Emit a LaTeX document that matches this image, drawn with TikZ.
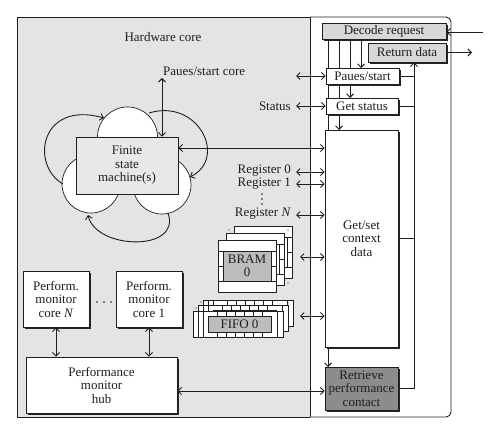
\documentclass[tikz,border=0pt]{standalone}
\usepackage{fontspec}
\setmainfont{Liberation Serif}
\usetikzlibrary{arrows.meta,shadows,calc}
\definecolor{bggrey}{HTML}{E4E4E4}
\definecolor{fsmgrey}{HTML}{E8E8E8}
\definecolor{hdrgrey}{HTML}{D8D8D8}
\definecolor{memgrey}{HTML}{BDBDBD}
\definecolor{darkgrey}{HTML}{8C8C8C}
\definecolor{ink}{HTML}{1E1E1E}
\tikzset{
  lbl/.style={font=\fontsize{13}{13.5}\selectfont, inner sep=0pt, align=center, text=ink},
  boxbase/.style={lbl, draw=ink, line width=0.9pt, fill=white},
  shbox/.style={boxbase, drop shadow={shadow xshift=2pt, shadow yshift=-2pt, fill=black!85, opacity=1}},
  arr/.style={draw=ink, line width=0.9pt, -{Straight Barb[length=3.5pt,width=7pt]}},
  darr/.style={draw=ink, line width=0.9pt, {Straight Barb[length=3.5pt,width=7pt]}-{Straight Barb[length=3.5pt,width=7pt]}},
  ln/.style={draw=ink, line width=0.9pt},
  thin/.style={draw=ink, line width=0.7pt}
}
\newcommand{\bramlayer}[3]{%
  \begin{scope}[shift={(#1,#2)}]
    \draw[thin, fill=white] (0,0) rectangle (58,52);
    \draw[thin, fill=#3] (5,11) rectangle (53,41);
    \foreach \yy in {11,26,41} {\draw[thin] (0,\yy) -- (5,\yy); \draw[thin] (53,\yy) -- (58,\yy);}
  \end{scope}}
\newcommand{\fifolayer}[3]{%
  \begin{scope}[shift={(#1,#2)}]
    \draw[thin, fill=white] (0,0) rectangle (90,26);
    \draw[thin, fill=#3] (15,5) rectangle (78,21);
    \foreach \xx in {24,33,...,69} {\draw[thin] (\xx,0) -- (\xx,5); \draw[thin] (\xx,21) -- (\xx,26);}
    \draw[thin] (5,0) -- (5,26); \draw[thin] (10,0) -- (10,26); \draw[thin] (84,0) -- (84,26);
  \end{scope}}
\begin{document}
\begin{tikzpicture}[x=1pt, y=-1pt]
\useasboundingbox (0,0) rectangle (500,435);
% frame
\fill[bggrey] (17,17) rectangle (310,417);
\draw[ln] (17,17) -- (310,17);
\draw[ln, rounded corners=5pt] (310,17) -- (451,17) -- (451,417) -- (310,417);
\draw[ln] (310,417) -- (17,417) -- (17,17);
\draw[ln] (310,17) -- (310,417);

\node[lbl] (hw) at (163,37) {Hardware core};

% column coordinates
\coordinate (xa) at (328,0);
\coordinate (xb) at (339,0);
\coordinate (xc) at (350,0);
\coordinate (xd) at (361,0);
\coordinate (xr) at (414,0);

\node[shbox, fill=hdrgrey, minimum width=124, minimum height=16] (dec) at (384,31) {Decode request};
\node[shbox, fill=hdrgrey, minimum width=78, minimum height=19] (ret) at (407,52.5) {Return data};

% vertical lines from decode (behind boxes)
\coordinate (psT) at (0,68);
\coordinate (gsT) at (0,98);
\coordinate (gscT) at (0,130);
\coordinate (rpcT) at (0,367);
\draw[arr] (dec.south -| xa) -- (rpcT -| xa);
\draw[arr] (dec.south -| xb) -- (gscT -| xb);
\draw[arr] (dec.south -| xc) -- (gsT -| xc);
\draw[arr] (dec.south -| xd) -- (psT -| xd);

\node[shbox, minimum width=73, minimum height=16] (ps) at (362.5,76) {Paues/start};
\node[shbox, minimum width=72, minimum height=16] (gs) at (362,106) {Get status};
\node[shbox, minimum width=73, minimum height=217] (gsc) at (361.5,238.5) {Get/set\\context\\data};
\node[shbox, fill=darkgrey, minimum width=73, minimum height=43] (rpc) at (361.5,388.5) {Retrieve\\performance\\contact};

% return lines
\draw[ln] (ps.east) -- (ps.east -| xr);
\draw[ln] (gs.east) -- (gs.east -| xr);
\draw[ln] (gsc.east) -- (gsc.east -| xr);
\draw[ln] (rpc.east) -- (rpc.east -| xr);
\draw[arr] (rpc.east -| xr) -- (ret.south -| xr);

% external
\coordinate (inR) at (483,32);
\coordinate (outR) at (472,52.5);
\draw[arr] (inR) -- (inR -| dec.east);
\draw[arr] (ret.east) -- (outR);

% cloud and FSM
\draw[thin, fill=white] (127.5,137) circle (30);
\draw[thin, fill=white] (91,184) circle (29);
\draw[thin, fill=white] (162,185) circle (29);
\node[lbl, draw=ink, line width=0.9pt, fill=fsmgrey, minimum width=102, minimum height=57] (fsm) at (127,165.5) {Finite\\state\\machine(s)};
\draw[arr] (63,184) .. controls (30,165) and (40,100) .. (104,118);
\draw[arr] (149,113) .. controls (198,98) and (228,158) .. (190,177);
\draw[arr] (168,213) .. controls (182,252) and (96,250) .. (88,215);

% paues/start core
\coordinate (pst) at (162,78);
\draw[darr] (pst) -- (pst |- fsm.north);
\node[lbl, anchor=west] (pscl) at (163,71) {Paues/start core};

% left arrows into right column
\coordinate (aPs) at (296,76);
\coordinate (aSt) at (296,106);
\coordinate (aF) at (0,148);
\coordinate (aR0) at (296,172);
\coordinate (aR1) at (296,184);
\coordinate (aRN) at (296,215);
\coordinate (aB) at (300,257);
\coordinate (aFi) at (300,316);
\draw[darr] (aPs) -- (aPs -| ps.west);
\draw[darr] (aSt) -- (aSt -| gs.west);
\draw[darr] (fsm.east |- aF) -- (gsc.west |- aF);
\draw[darr] (aR0) -- (aR0 -| gsc.west);
\draw[darr] (aR1) -- (aR1 -| gsc.west);
\draw[darr] (aRN) -- (aRN -| gsc.west);
\draw[darr] (aB) -- (aB -| gsc.west);
\draw[darr] (aFi) -- (aFi -| gsc.west);
\node[lbl, anchor=east] (st) at (291,106) {Status};
\node[lbl, anchor=east] (r0) at (291,171) {Register 0};
\node[lbl, anchor=east] (r1) at (291,183.5) {Register 1};
\node[lbl, anchor=east] (rn) at (291,214) {Register \textit{N}};
\foreach \yy in {194,199,204} {\fill[ink] (262,\yy) circle (0.8);}

% BRAM stack
\bramlayer{234}{226}{white}
\bramlayer{226}{233}{white}
\bramlayer{218}{240}{white}
\node[lbl, draw=ink, line width=0.7pt, fill=memgrey, minimum width=48, minimum height=30] (bram) at (247,266) {BRAM\\0};
\fill[ink] (229,230) circle (0.7);
\fill[ink] (288,230) circle (0.7);
\fill[ink] (288,283) circle (0.7);

% FIFO stack
\fifolayer{203}{300}{white}
\fifolayer{198}{305.5}{white}
\fifolayer{193}{311}{white}
\node[lbl, draw=ink, line width=0.7pt, fill=memgrey, minimum width=63, minimum height=16] (fifo) at (239.5,324) {FIFO 0};
\fill[ink] (201,302) circle (0.7);
\fill[ink] (196,308) circle (0.7);
\fill[ink] (288,303) circle (0.7);
\fill[ink] (289,328) circle (0.7);

% performance monitors
\node[shbox, minimum width=66, minimum height=56] (pmN) at (56,299) {Perform.\\monitor\\core \textit{N}};
\node[shbox, minimum width=66, minimum height=56] (pm1) at (149,299) {Perform.\\monitor\\core 1};
\foreach \xx in {97,104,111} {\fill[ink] (\xx,302) circle (0.8);}
\node[shbox, minimum width=151, minimum height=56] (hub) at (101.5,385) {Performance\\monitor\\hub};
\draw[darr] (pmN.south) -- (pmN.south |- hub.north);
\draw[darr] (pm1.south) -- (pm1.south |- hub.north);
\coordinate (aH) at (0,391);
\draw[darr] (hub.east |- aH) -- (rpc.west |- aH);
\end{tikzpicture}
\end{document}
